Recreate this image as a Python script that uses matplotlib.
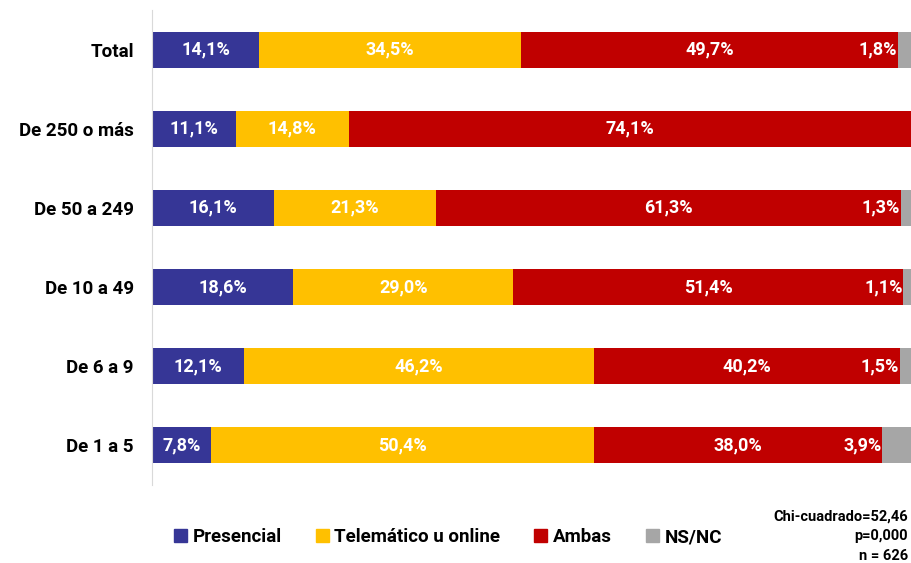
import numpy as np
import matplotlib.pyplot as plt
from matplotlib.patches import Patch

plt.rcParams['font.family'] = ['Roboto', 'DejaVu Sans']

categories = ["Total", "De 250 o más", "De 50 a 249", "De 10 a 49", "De 6 a 9", "De 1 a 5"]
presencial = [14.1, 11.1, 16.1, 18.6, 12.1, 7.8]
telematico = [34.5, 14.8, 21.3, 29.0, 46.2, 50.4]
ambas = [49.7, 74.1, 61.3, 51.4, 40.2, 38.0]
nsnc = [1.8, 0.0, 1.3, 1.1, 1.5, 3.9]

series_names = ["Presencial", "Telemático u online", "Ambas", "NS/NC"]
colors = ["#363696", "#FFC000", "#C00000", "#A6A6A6"]


def fmt(v):
    return f"{v:.1f}%".replace(".", ",")


fig = plt.figure(figsize=(9.11, 5.63), dpi=100)
ax = fig.add_axes([152 / 911, 78 / 563, 759 / 911, 475 / 563])

y = np.arange(len(categories))
data = [presencial, telematico, ambas, nsnc]
left = np.zeros(len(categories))
for vals, color, name in zip(data, colors, series_names):
    vals = np.array(vals)
    ax.barh(y, vals, left=left, height=0.455, color=color, label=name)
    for i, v in enumerate(vals):
        if v <= 0:
            continue
        if name == "NS/NC":
            # small segment: label sits just left of it
            ax.text(left[i] - 0.1, y[i], fmt(v), ha="right", va="center",
                    color="white", fontsize=13, fontweight="bold")
        else:
            ax.text(left[i] + v / 2, y[i], fmt(v), ha="center", va="center",
                    color="white", fontsize=13, fontweight="bold")
    left += vals

ax.set_xlim(0, 100)
ax.set_ylim(5.5, -0.5)
ax.set_yticks(y)
ax.set_yticklabels(categories, fontsize=13.5, fontweight="bold")
ax.tick_params(axis="y", length=0, pad=13)
ax.set_xticks([])
for s in ["top", "right", "bottom"]:
    ax.spines[s].set_visible(False)
ax.spines["left"].set_color("#D9D9D9")

handles = [Patch(color=c, label=n) for c, n in zip(colors, series_names)]
fig.legend(handles=handles, loc="center", bbox_to_anchor=(448 / 911, 1 - 537 / 563),
           ncol=4, frameon=False, prop={"weight": "bold", "size": 13.5},
           handlelength=0.7, handleheight=0.7, handletextpad=0.3, columnspacing=1.8)

fig.text(908 / 911, 1 - 536 / 563, "Chi-cuadrado=52,46\np=0,000\nn = 626",
         ha="right", va="center", fontsize=10.5, fontweight="bold", linespacing=1.5)

fig.savefig("out.png", dpi=100)
